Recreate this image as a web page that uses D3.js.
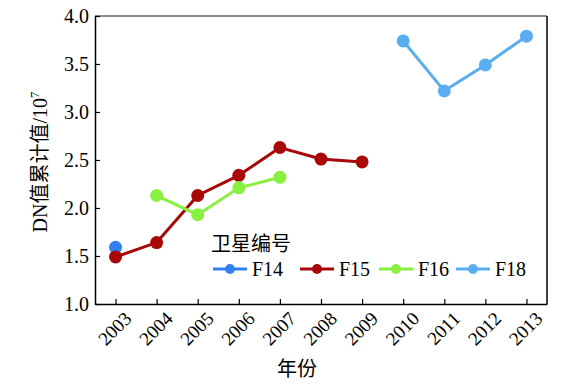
<!DOCTYPE html>
<html>
<head>
<meta charset="utf-8">
<script src="https://cdn.jsdelivr.net/npm/d3@7"></script>
<style>
  body { margin: 0; background: #fff; }
  svg text { font-family: "Liberation Serif", "Noto Sans CJK SC", serif; fill: #000; }
</style>
</head>
<body>
<svg></svg>
<script>
//years on the x axis
let years = [2003, 2004, 2005, 2006, 2007, 2008, 2009, 2010, 2011, 2012, 2013];
//one array per satellite, [year, value]
let f14 = [[2003, 1.59]];
let f15 = [[2003, 1.49], [2004, 1.64], [2005, 2.13], [2006, 2.34], [2007, 2.63], [2008, 2.51], [2009, 2.48]];
let f16 = [[2004, 2.13], [2005, 1.93], [2006, 2.21], [2007, 2.32]];
let f18 = [[2010, 3.74], [2011, 3.22], [2012, 3.49], [2013, 3.79]];
let seriesNames = ["F14", "F15", "F16", "F18"];
let yTicks = [1.0, 1.5, 2.0, 2.5, 3.0, 3.5, 4.0];

let colors = ["#3182f0", "#a80808", "#88f040", "#5aaef0"];
let allSeries = [f14, f15, f16, f18];

let width = 572;
let height = 392;
let plotLeft = 95;
let plotRight = 547;
let plotTop = 16;
let plotBottom = 304;
let serif = "'Liberation Serif', 'Noto Sans CJK SC', serif";

let svg = d3.select("svg").attr("width", width).attr("height", height);

let xScale = d3.scaleLinear().domain([2002.5, 2013.5]).range([plotLeft, plotRight]);
let yScale = d3.scaleLinear().domain([1.0, 4.0]).range([plotBottom, plotTop]);

//frame: gray top, black elsewhere
svg.append("line").attr("x1", plotLeft).attr("x2", plotRight).attr("y1", plotTop).attr("y2", plotTop)
  .attr("stroke", "#666").attr("stroke-width", 1.5);
svg.append("line").attr("x1", plotRight).attr("x2", plotRight).attr("y1", plotTop).attr("y2", plotBottom)
  .attr("stroke", "#000").attr("stroke-width", 1.5);

let xAxis = d3.axisBottom(xScale).tickValues(years).tickFormat(d3.format("d"))
  .tickSizeInner(-5).tickSizeOuter(0);
let gx = svg.append("g").attr("transform", "translate(0," + plotBottom + ")").call(xAxis)
  .attr("font-family", serif);
gx.select(".domain").attr("stroke", "#000").attr("stroke-width", 1.5);
gx.selectAll(".tick line").attr("stroke", "#000").attr("stroke-width", 1.2);
gx.selectAll(".tick text")
  .attr("font-size", 19)
  .attr("font-family", serif)
  .attr("text-anchor", "end")
  .attr("transform", "translate(12,11) rotate(-45)")
  .attr("dy", "0.35em")
  .attr("y", 0);

let yAxis = d3.axisLeft(yScale).tickValues(yTicks).tickFormat(d3.format(".1f"))
  .tickSizeInner(-5).tickSizeOuter(0);
let gy = svg.append("g").attr("transform", "translate(" + plotLeft + ",0)").call(yAxis)
  .attr("font-family", serif);
gy.select(".domain").attr("stroke", "#000").attr("stroke-width", 1.5);
gy.selectAll(".tick line").attr("stroke", "#000").attr("stroke-width", 1.2);
gy.selectAll(".tick text").attr("font-size", 20).attr("font-family", serif).attr("x", -6);

//axis titles
svg.append("text").attr("x", 297).attr("y", 376).attr("text-anchor", "middle")
  .attr("font-size", 20).attr("font-family", serif).text("年份");
let yt = svg.append("text").attr("transform", "translate(47,162) rotate(-90)")
  .attr("text-anchor", "middle").attr("font-size", 20).attr("font-family", serif);
yt.append("tspan").text("DN值累计值/10");
yt.append("tspan").attr("font-size", 13).attr("dy", -8).text("7");

//lines and markers
let line = d3.line().x((d) => xScale(d[0])).y((d) => yScale(d[1]));
allSeries.forEach((s, i) => {
  svg.append("path").datum(s).attr("d", line).attr("fill", "none")
    .attr("stroke", colors[i]).attr("stroke-width", 3);
});
allSeries.forEach((s, i) => {
  svg.selectAll(".pt" + i).data(s).enter().append("circle")
    .attr("cx", (d) => xScale(d[0])).attr("cy", (d) => yScale(d[1]))
    .attr("r", 6.5).attr("fill", colors[i]);
});

//legend
svg.append("text").attr("x", 211).attr("y", 251).attr("font-size", 20)
  .attr("font-family", serif).text("卫星编号");
let legendX = [213, 300, 379, 456];
seriesNames.forEach((name, i) => {
  let g = svg.append("g").attr("transform", "translate(" + legendX[i] + ",269)");
  g.append("line").attr("x1", 0).attr("x2", 34).attr("stroke", colors[i]).attr("stroke-width", 3);
  g.append("circle").attr("cx", 17).attr("r", 5).attr("fill", colors[i]);
  g.append("text").attr("x", 39).attr("y", 7).attr("font-size", 20)
    .attr("font-family", serif).text(name);
});
</script>
</body>
</html>
